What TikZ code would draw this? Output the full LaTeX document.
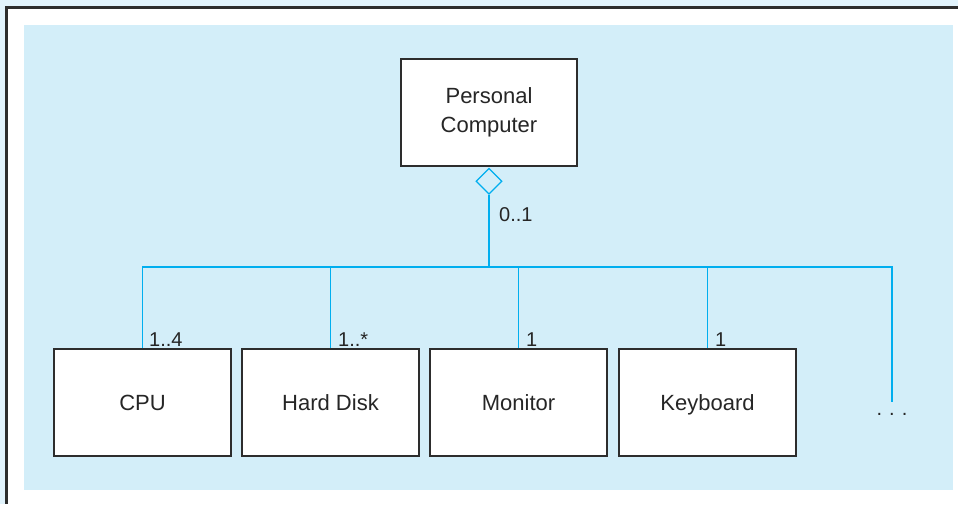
\documentclass[tikz,border=0pt]{standalone}
\usepackage{fontspec}
\setmainfont{Liberation Sans}
\usetikzlibrary{shapes.geometric}
\definecolor{panelblue}{RGB}{211,238,249}
\definecolor{outerblue}{RGB}{225,243,252}
\definecolor{linkblue}{RGB}{0,174,239}
\definecolor{boxline}{RGB}{45,45,45}
\tikzset{
  classbox/.style={draw=boxline, line width=1.2pt, fill=white, inner sep=0pt,
    minimum width=177pt, minimum height=107pt, align=center,
    font=\fontsize{22}{29}\selectfont, text=black!85},
  single/.style={text height=16pt, text depth=0pt},
  conn/.style={draw=linkblue, line width=1.3pt},
  mult/.style={anchor=base west, inner sep=0pt, font=\fontsize{20}{24}\selectfont, text=black!85},
  aggr/.style={diamond, draw=linkblue, line width=1.3pt, fill=panelblue, inner sep=0pt,
    minimum width=26pt, minimum height=26pt, shape aspect=1}
}
\begin{document}
\begin{tikzpicture}[x=1pt,y=-1pt]
\useasboundingbox (0,0) rectangle (958,504);
\fill[white] (0,0) rectangle (958,504);
\fill[outerblue] (0,0) rectangle (958,6);
\fill[outerblue] (0,0) rectangle (6,504);
\fill[boxline] (5,6) rectangle (958,9);
\fill[boxline] (5,6) rectangle (8,504);
\fill[panelblue] (24,25) rectangle (953,490);

\node[classbox, minimum width=176pt] (pc) at (489,112.5) {Personal\\Computer};
\node[aggr, anchor=north] (dia) at ([yshift=-1pt]pc.south) {};

\node[classbox, single] (cpu) at (142.5,402.5) {CPU};
\node[classbox, single] (hd)  at (330.5,402.5) {Hard Disk};
\node[classbox, single] (mon) at (518.5,402.5) {Monitor};
\node[classbox, single] (kb)  at (707.5,402.5) {Keyboard};
\node[inner sep=0pt, font=\fontsize{20}{24}\selectfont, text=black!85] (dots) at (892,414) {.\hspace{7pt}.\hspace{7pt}.};

\coordinate (endtop) at (892,267);
\coordinate (endbot) at (892,402);

\draw[conn] (dia.south) -- (dia.south |- endtop);
\draw[conn] (cpu.north) |- (endtop) -- (endbot);
\draw[conn] (hd.north) -- (hd.north |- endtop);
\draw[conn] (mon.north) -- (mon.north |- endtop);
\draw[conn] (kb.north) -- (kb.north |- endtop);

\node[mult] (m0) at (499,221) {0..1};
\node[mult] (m1) at (149,346) {1..4};
\node[mult] (m2) at (338,346) {1..*};
\node[mult] (m3) at (526,346) {1};
\node[mult] (m4) at (715,346) {1};
\end{tikzpicture}
\end{document}
